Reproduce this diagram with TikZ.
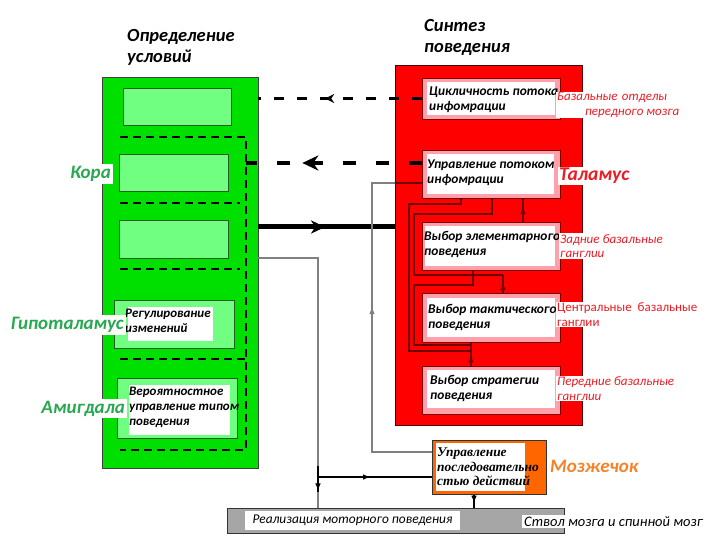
\documentclass[tikz,border=0pt]{standalone}
\usepackage{fontspec}
\setmainfont{Carlito}
\newfontfamily\serifbi{Liberation Serif}
\usetikzlibrary{arrows.meta,decorations.markings}
\definecolor{gfill}{RGB}{0,224,0}
\definecolor{lgfill}{RGB}{112,255,128}
\definecolor{lgline}{RGB}{40,90,40}
\definecolor{pinkb}{RGB}{255,160,170}
\definecolor{lblred}{RGB}{236,28,36}
\definecolor{lblgreen}{RGB}{40,168,80}
\definecolor{orfill}{RGB}{255,102,0}
\definecolor{ortext}{RGB}{246,130,40}
\definecolor{barfill}{RGB}{166,166,166}
\definecolor{dred}{RGB}{110,0,0}
\definecolor{glin}{RGB}{128,128,128}
\begin{document}
\begin{tikzpicture}[x=1pt,y=-1pt,
  greenbox/.style={draw=black!75,fill=gfill,line width=1pt,inner sep=0pt,outer sep=0pt},
  lgbox/.style={draw=lgline,fill=lgfill,line width=1pt,inner sep=0pt,outer sep=0pt},
  redbox/.style={draw=black!70!red,fill=red,line width=1pt,inner sep=0pt,outer sep=0pt},
  pinkbox/.style={draw=black!50!red,fill=pinkb,line width=0.8pt,inner sep=0pt,outer sep=0pt},
  whitearea/.style={fill=white,inner sep=0pt,outer sep=0pt},
  boxtext/.style={anchor=west,align=left,inner sep=0pt,font=\bfseries\itshape\fontsize{13.4}{15}\selectfont},
  gboxtext/.style={anchor=west,align=left,inner sep=0pt,font=\bfseries\itshape\fontsize{13}{15}\selectfont},
  greenlbl/.style={fill=white,inner sep=2pt,text=lblgreen,font=\bfseries\itshape\fontsize{19}{22}\selectfont},
  redlbl/.style={fill=white,inner sep=1pt,anchor=west,align=left,text=lblred,font=\itshape\fontsize{13}{14.5}\selectfont},
  titletext/.style={anchor=west,align=left,inner sep=0pt,font=\bfseries\itshape\fontsize{18.5}{21}\selectfont},
  gdash/.style={line width=2pt,dash pattern=on 8pt off 5pt},
  gline/.style={draw=glin,line width=1.3pt},
  bline/.style={draw=black,line width=1.2pt},
  drline/.style={draw=dred,line width=1.3pt},
  marr/.style n args={2}{postaction={decorate},decoration={markings,mark=at position #1 with {\arrow{#2}}}},
]
\useasboundingbox (0,0) rectangle (720,540);
\fill[white] (0,0) rectangle (720,540);

% ---------- titles
\node[titletext] (title1) at (127,47.5) {Определение\\условий};
\node[titletext] (title2) at (424,37) {Синтез\\поведения};

% ---------- green column
\node[greenbox,minimum width=156pt,minimum height=390pt] (green) at (180,273) {};
\node[lgbox,minimum width=108pt,minimum height=37pt] (lg1) at (177,107.5) {};
\node[lgbox,minimum width=109pt,minimum height=37pt] (lg2) at (173.5,173.5) {};
\node[lgbox,minimum width=109pt,minimum height=37pt] (lg3) at (173.5,239.5) {};
\node[lgbox,minimum width=120pt,minimum height=48pt] (lg4) at (174,324) {};
\node[lgbox,minimum width=120pt,minimum height=60pt] (lg5) at (177,408) {};
\node[whitearea,minimum width=85pt,minimum height=34pt] (lg4w) at (170.5,324) {};
\node[whitearea,minimum width=101pt,minimum height=50pt] (lg5w) at (179.5,410) {};
\node[gboxtext] (lg4t) at (125,320.5) {Регулирование\\изменений};
\node[gboxtext] (lg5t) at (129,407) {Вероятностное\\управление типом\\поведения};

\draw[gdash] (120,137) -- (246,137) -- (246,450) -- (120,450);
\draw[gdash] (120,203) -- (240,203);
\draw[gdash] (120,269) -- (240,269);
\draw[gdash] (120,359) -- (246,359);
\coordinate (dv) at (246,163);

\node[greenlbl,anchor=east] (kora) at (113,174) {Кора};
\node[greenlbl,anchor=east] (gipo) at (126,325) {Гипоталамус};
\node[greenlbl,anchor=east] (amig) at (127,408.5) {Амигдала};

% ---------- red column
\node[redbox,minimum width=187pt,minimum height=359pt] (red) at (488.5,245.5) {};
\node[pinkbox,minimum width=138pt,minimum height=41pt] (b1) at (491,98.5) {};
\node[pinkbox,minimum width=138pt,minimum height=48pt] (b2) at (491,174) {};
\node[pinkbox,minimum width=138pt,minimum height=48pt] (b3) at (491,246) {};
\node[pinkbox,minimum width=138pt,minimum height=49pt] (b4) at (491,317.5) {};
\node[pinkbox,minimum width=138pt,minimum height=48pt] (b5) at (491,390) {};
\node[whitearea,minimum width=128pt,minimum height=33pt] (w1) at (491,98.5) {};
\node[whitearea,minimum width=127pt,minimum height=40pt] (w2) at (490.5,174) {};
\node[whitearea,minimum width=130pt,minimum height=40pt] (w3) at (490,246) {};
\node[whitearea,minimum width=128pt,minimum height=39pt] (w4) at (491,317.5) {};
\node[whitearea,minimum width=128pt,minimum height=38pt] (w5) at (491,389) {};
\node[boxtext] (t1) at (429,99.5) {Цикличность потока\\инфомрации};
\node[boxtext] (t2) at (427,172.5) {Управление потоком\\инфомрации};
\node[boxtext] (t3) at (424,244) {Выбор элементарного\\поведения};
\node[boxtext] (t4) at (428,317.5) {Выбор тактического\\поведения};
\node[boxtext] (t5) at (430,388.5) {Выбор стратегии\\поведения};

% internal dark red connectors
\draw[drline] (461,0 |- b2.south) |- (409,204) |- (471,351);
\draw[drline] (492,0 |- b2.south) |- (414,214) |- (503,275);
\draw[drline] (473,0 |- b3.south) |- (414,285) |- (471,345);
\draw[drline,marr={0.5}{Triangle[length=6pt,width=5pt]}] (503,0 |- b4.north) -- (503,275);
\draw[drline,marr={0.58}{Triangle[length=6pt,width=5pt]}] (523,0 |- b3.north) -- (523,0 |- b2.south);
\draw[drline,marr={0.4}{Triangle[length=6pt,width=5pt]}] (471,0 |- b5.north) -- (471,0 |- b4.south);

% red labels
\node[redlbl] (lbl1) at (556,105) {Базальные\hspace{4.5pt}отделы\\\hspace*{28pt}передного мозга};
\node[redlbl,font=\bfseries\itshape\fontsize{19.5}{21}\selectfont] (lbl2) at (558,176) {Таламус};
\node[redlbl] (lbl3) at (559,246) {Задние базальные\\ганглии};
\node[redlbl,font=\fontsize{13}{14.5}\selectfont] (lbl4) at (556,314.5) {Центральные\ \ базальные\\ганглии};
\node[redlbl] (lbl5) at (556,388.5) {Передние базальные\\ганглии};

% ---------- cerebellum
\node[draw=black!80,fill=orfill,line width=1pt,minimum width=114pt,minimum height=54pt,inner sep=0pt] (orange) at (489,467) {};
\node[whitearea,minimum width=89pt,minimum height=48pt] (orw) at (480.5,467) {};
\node[anchor=west,align=left,inner sep=0pt,font=\serifbi\bfseries\itshape\fontsize{13.4}{14.5}\selectfont] (ort) at (437,467) {Управление\\последовательно\\стью действий};
\node[fill=white,inner sep=2pt,anchor=west,text=ortext,font=\bfseries\itshape\fontsize{19}{22}\selectfont] (mozz) at (548,466) {Мозжечок};

% ---------- bottom bar
\node[draw=black!80,fill=barfill,line width=1pt,minimum width=337pt,minimum height=25pt,inner sep=0pt] (bar) at (395.5,520.5) {};
\node[fill=white,inner sep=0pt,minimum width=215pt,minimum height=19pt,font=\itshape\fontsize{13.4}{15}\selectfont] (bart) at (352.5,520.5) {Реализация моторного поведения};
\node[fill=white,inner sep=2pt,anchor=west,font=\itshape\fontsize{14.5}{15}\selectfont] (stvol) at (522,521.5) {Ствол мозга и спинной мозг};

% ---------- connectors between columns
\draw[line width=3pt,dash pattern=on 10pt off 13pt,marr={0.59}{Stealth[length=9pt,width=9pt]}] (b1.west) -- (green.east |- b1.west);
\draw[line width=4pt,dash pattern=on 13pt off 20pt,marr={0.68}{Stealth[length=16pt,width=15pt,inset=5pt]}] (b2.west |- dv) -- (dv);
\draw[line width=5pt,marr={0.49}{Stealth[length=14pt,width=13pt,inset=4pt]}] (green.east |- 0,227) -- (red.west |- 0,227);

% gray / black thin connectors
\draw[gline] (green.east |- 0,258) -| (318,0 |- bar.north);
\coordinate (j1) at (318,477);
\draw[bline,marr={0.9}{Triangle[length=6pt,width=5pt]}] (318,466) -- (318,492);
\draw[bline,marr={0.45}{Triangle[length=6pt,width=5pt]}] (j1) -- (orange.west |- j1);
\draw[gline] (orange.west |- 0,452) -| (372,183) -- (red.west |- 0,183);
\draw[drline] (red.west |- 0,183) -- (b2.west |- 0,183);
\draw[draw=glin,line width=1.3pt,marr={1}{Triangle[length=6pt,width=5pt]}] (372,322) -- (372,308);
\draw[bline,marr={0.55}{Triangle[length=6pt,width=5pt]}] (474,0 |- orange.south) -- (474,0 |- bar.north);
\end{tikzpicture}
\end{document}
